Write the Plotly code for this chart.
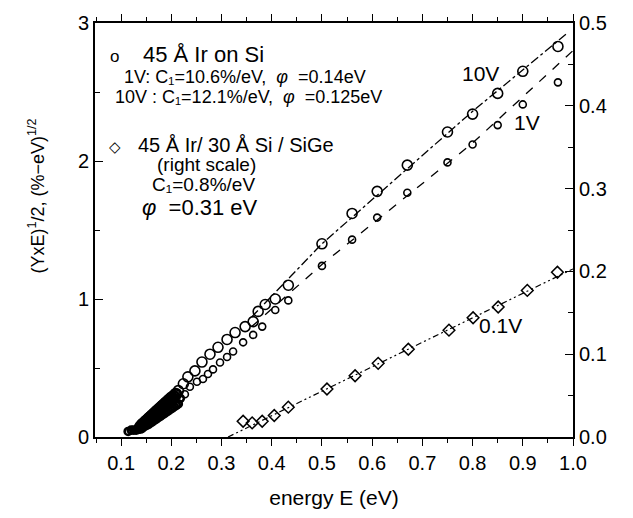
import plotly.graph_objects as go

# ---- data ----
# 45 A Ir on Si, 10 V (large circles)
E_10V = [0.138, 0.141, 0.144, 0.147, 0.15, 0.153, 0.156, 0.159, 0.162, 0.165, 0.168, 0.171,
         0.174, 0.177, 0.18, 0.183, 0.186, 0.189, 0.192, 0.195, 0.198, 0.201, 0.205, 0.209,
         0.214, 0.224, 0.233, 0.247, 0.261, 0.277,
         0.293, 0.311, 0.327, 0.347, 0.363, 0.373, 0.387, 0.407, 0.433, 0.50, 0.56, 0.61,
         0.67, 0.75, 0.80, 0.85, 0.90, 0.97]
Y_10V = [0.07, 0.085, 0.095, 0.105, 0.115, 0.125, 0.135, 0.145, 0.155, 0.165, 0.175, 0.185,
         0.195, 0.205, 0.215, 0.225, 0.235, 0.245, 0.255, 0.265, 0.275, 0.285, 0.295, 0.31,
         0.336, 0.386, 0.436, 0.479, 0.543, 0.60,
         0.65, 0.707, 0.757, 0.80, 0.836, 0.91, 0.96, 1.00, 1.10, 1.40, 1.62, 1.78,
         1.97, 2.21, 2.34, 2.49, 2.65, 2.83]
# 45 A Ir on Si, 1 V (small circles)
E_1V = [0.114, 0.12, 0.125, 0.13, 0.134, 0.138, 0.142, 0.146, 0.15, 0.154, 0.158, 0.162,
        0.166, 0.17, 0.174, 0.178, 0.182, 0.186, 0.19, 0.194, 0.198, 0.202, 0.206,
        0.210, 0.214, 0.218, 0.227, 0.237, 0.251,
        0.263, 0.273, 0.283, 0.297, 0.311, 0.323, 0.343, 0.363, 0.381, 0.407, 0.433,
        0.50, 0.56, 0.61, 0.67, 0.75, 0.80, 0.85, 0.90, 0.97]
Y_1V = [0.04, 0.05, 0.05, 0.05, 0.055, 0.06, 0.065, 0.075, 0.085, 0.09, 0.10, 0.11,
        0.12, 0.13, 0.14, 0.15, 0.16, 0.17, 0.18, 0.19, 0.20, 0.21, 0.22,
        0.23, 0.24, 0.28, 0.31, 0.364, 0.40,
        0.42, 0.457, 0.49, 0.54, 0.58, 0.62, 0.686, 0.74, 0.80, 0.92, 0.99,
        1.24, 1.43, 1.59, 1.77, 1.99, 2.12, 2.26, 2.41, 2.57]
# 45 A Ir / 30 A Si / SiGe, 0.1 V (diamonds, right scale)
E_SiGe = [0.343, 0.361, 0.381, 0.405, 0.433, 0.51, 0.566, 0.612, 0.672, 0.753, 0.801,
          0.851, 0.909, 0.969]
Y_SiGe = [0.019, 0.017, 0.019, 0.026, 0.036, 0.058, 0.074, 0.089, 0.106, 0.129, 0.144,
          0.157, 0.177, 0.199]

# fit lines
fit10_E = [0.36, 0.50, 0.80, 0.99]
fit10_Y = [0.87, 1.40, 2.36, 2.93]
fit1_E = [0.36, 0.50, 0.80, 1.00]
fit1_Y = [0.80, 1.25, 2.13, 2.80]
fitS_E = [0.313, 1.00]
fitS_Y = [0.0, 0.203]

x_ticks = [0.1, 0.2, 0.3, 0.4, 0.5, 0.6, 0.7, 0.8, 0.9, 1.0]
y_ticks = [0, 1, 2, 3]
y2_ticks = [0.0, 0.1, 0.2, 0.3, 0.4, 0.5]

FONT = "Liberation Sans"
fig = go.Figure()

fig.add_trace(go.Scatter(x=fit10_E, y=fit10_Y, mode="lines",
                         line=dict(color="black", width=1.3, dash="dashdot")))
fig.add_trace(go.Scatter(x=fit1_E, y=fit1_Y, mode="lines",
                         line=dict(color="black", width=1.3, dash="dash")))
fig.add_trace(go.Scatter(x=fitS_E, y=fitS_Y, mode="lines", yaxis="y2",
                         line=dict(color="black", width=1.2, dash="6px,3px,2px,3px,2px,3px")))

# dense low-energy region prints as a solid band in the original
w10 = [3.0 if e < 0.21 else 1.6 for e in E_10V]
w1 = [2.6 if e < 0.22 else 1.6 for e in E_1V]
fig.add_trace(go.Scatter(x=E_10V, y=Y_10V, mode="markers",
                         marker=dict(symbol="circle-open", size=10, color="black",
                                     line=dict(width=w10, color="black"))))
fig.add_trace(go.Scatter(x=E_1V, y=Y_1V, mode="markers",
                         marker=dict(symbol="circle-open", size=7, color="black",
                                     line=dict(width=w1, color="black"))))
fig.add_trace(go.Scatter(x=E_SiGe, y=Y_SiGe, mode="markers", yaxis="y2",
                         marker=dict(symbol="diamond-open", size=9, color="black",
                                     line=dict(width=1.5, color="black"))))

ann = []
def txt(x, y, t, size, xanchor="left", angle=0):
    ann.append(dict(x=x, y=y, xref="paper", yref="paper", text=t, showarrow=False,
                    xanchor=xanchor, yanchor="middle", textangle=angle,
                    font=dict(family=FONT, size=size, color="black")))

def px(xp, yp):
    return (xp - 95) / 478, (439 - yp) / 420

phi = "<i>φ</i>"
for (xp, yp, t, s) in [
    (108, 53, "o", 17),
    (141, 51, "45 Å Ir on Si", 22),
    (122, 74, "1V: C₁=10.6%/eV,  " + phi + "  =0.14eV", 18),
    (113, 94, "10V : C₁=12.1%/eV,  " + phi + "  =0.125eV", 18),
    (107, 144, "◇", 15),
    (136, 143, "45 Å Ir/ 30 Å Si / SiGe", 20),
    (155, 163, "(right scale)", 19),
    (150, 183, "C₁=0.8%/eV", 19),
    (140, 206, phi + "  =0.31 eV", 22),
    (460, 70, "10V", 21),
    (512, 120, "1V", 21),
    (477, 326, "0.1V", 21),
]:
    x, y = px(xp, yp)
    txt(x, y, t, s)

# y-axis title as rotated annotation
tx, ty = px(37, 195)
txt(tx, ty, "(YxE)<sup>1</sup>/2, (%−eV)<sup>1/2</sup>", 18, xanchor="center", angle=-90)

axis_common = dict(showline=True, linecolor="black", linewidth=2,
                   tickcolor="black", showgrid=False, zeroline=False,
                   tickfont=dict(family=FONT, size=20, color="black"))

fig.update_layout(
    width=633, height=518,
    margin=dict(l=95, r=60, t=19, b=79),
    paper_bgcolor="white", plot_bgcolor="white",
    showlegend=False,
    annotations=ann,
    xaxis=dict(range=[0.048, 1.0], tickvals=x_ticks, ticktext=[f"{v:.1f}" for v in x_ticks],
               ticks="outside", ticklen=7, tickwidth=1.2, mirror="ticks",
               minor=dict(dtick=0.05, tick0=0.05, ticklen=4, ticks="outside", tickcolor="black"),
               title=dict(text="energy E (eV)", font=dict(family=FONT, size=21, color="black"),
                          standoff=17),
               **axis_common),
    yaxis=dict(range=[0, 3], tickvals=y_ticks, ticks="inside", ticklen=8, tickwidth=1.2, mirror=True,
               minor=dict(dtick=0.5, ticklen=5, ticks="inside", tickcolor="black"),
               **axis_common),
    yaxis2=dict(range=[0, 0.5], overlaying="y", side="right", tickvals=y2_ticks,
                ticktext=[f"{v:.1f}" for v in y2_ticks], ticks="inside", ticklen=8, tickwidth=1.2,
                minor=dict(dtick=0.05, ticklen=5, ticks="inside", tickcolor="black"),
                **axis_common),
)

fig.write_html("out.html")
